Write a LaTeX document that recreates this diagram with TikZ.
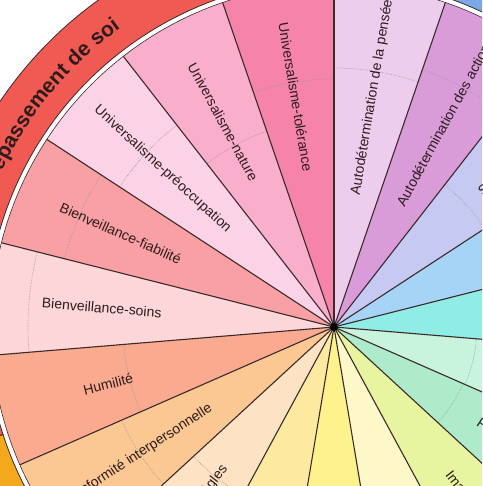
\documentclass[tikz,border=0pt]{standalone}
\usepackage{fontspec}
\setmainfont{Liberation Sans}
\usetikzlibrary{decorations.text}

\definecolor{ut}{HTML}{F583AA}
\definecolor{un}{HTML}{F9AECB}
\definecolor{up}{HTML}{FCD3E6}
\definecolor{bf}{HTML}{F9A0A4}
\definecolor{bs}{HTML}{FCD6D9}
\definecolor{hum}{HTML}{FAAA8E}
\definecolor{ci}{HTML}{FBC894}
\definecolor{cr}{HTML}{FDE2C4}
\definecolor{trad}{HTML}{FDEAA0}
\definecolor{ss}{HTML}{FDF28C}
\definecolor{sp}{HTML}{FEF8C8}
\definecolor{face}{HTML}{E8F5A0}
\definecolor{pr}{HTML}{AEEBCB}
\definecolor{pd}{HTML}{C8F3DC}
\definecolor{reus}{HTML}{8FEDE6}
\definecolor{hed}{HTML}{A6D4F7}
\definecolor{stim}{HTML}{C6CAF2}
\definecolor{ada}{HTML}{D99CD9}
\definecolor{adp}{HTML}{EDCDED}
\definecolor{traitfonce}{HTML}{3A2A2A}
\definecolor{textefonce}{HTML}{2E1C1C}
\definecolor{anneaurouge}{HTML}{F05A52}
\definecolor{anneauorange}{HTML}{F4A81C}
\definecolor{anneaubleu}{HTML}{7AA8E8}

\tikzset{
  valeur/.style={font=\fontsize{14}{16}\selectfont, text=textefonce, inner sep=0pt},
  rayon/.style={draw=traitfonce, line width=1.1pt},
  repere/.style={densely dotted, draw=black!40, line width=0.6pt},
  anneau/.style={draw=traitfonce, line width=0.8pt}
}

\begin{document}
\begin{tikzpicture}[x=1pt,y=1pt]
	\useasboundingbox (-334,-159) rectangle (148,327);
	\clip (-334,-159) rectangle (148,327);
	\coordinate (centre) at (0,0);

	% anneau exterieur
	\filldraw[anneau, fill=anneaurouge] (90:348pt) arc[start angle=90, end angle=198, radius=348pt] -- (198:403pt) arc[start angle=198, end angle=90, radius=403pt] -- cycle;
	\filldraw[anneau, fill=anneauorange] (198:348pt) arc[start angle=198, end angle=300, radius=348pt] -- (300:403pt) arc[start angle=300, end angle=198, radius=403pt] -- cycle;
	\filldraw[anneau, fill=anneaubleu] (0:348pt) arc[start angle=0, end angle=90, radius=348pt] -- (90:403pt) arc[start angle=90, end angle=0, radius=403pt] -- cycle;
	\path[decorate, decoration={text along path, text align=center, text color=textefonce,
		text={|\fontsize{21}{24}\bfseries|Dépassement de soi}}]
		(166.4:367pt) arc[start angle=166.4, end angle=116.4, radius=367pt];

	% secteurs
	\foreach \i/\col/\dr in {0/ut/248, 1/un/207, 2/up/256, 3/bf/278, 4/bs/306, 5/hum/211, 6/ci/232, 7/cr/191, 8/trad/220, 9/ss/220, 10/sp/220, 11/face/240, 12/pr/141, 13/pd/143, 14/reus/190, 15/hed/200, 16/stim/180, 17/ada/272, 18/adp/259}{
		\pgfmathsetmacro\a{90+\i*360/19}
		\pgfmathsetmacro\b{\a+360/19}
		\fill[\col] (centre) -- (\a:343pt) arc[start angle=\a, end angle=\b, radius=343pt] -- cycle;
		\draw[repere] (\a:\dr pt) arc[start angle=\a, end angle=\b, radius=\dr pt];
	}
	\foreach \i in {0,...,18}
		\draw[rayon] (centre) -- (90+\i*360/19:343pt);
	\draw[traitfonce, line width=0.6pt] (centre) circle[radius=343pt];
	\fill[black] (centre) circle[radius=4pt];

	% etiquettes
	\foreach \i/\lab in {0/Universalisme-tolérance, 1/Universalisme-nature, 2/Universalisme-préoccupation, 3/Bienveillance-fiabilité, 4/Bienveillance-soins, 5/Humilité, 6/Conformité interpersonnelle, 7/Conformité-règles, 11/Image publique, 12/Pouvoir-ressources, 16/Stimulation, 17/Autodétermination des actions, 18/Autodétermination de la pensée}{
		\pgfmathsetmacro\m{90+(\i+0.5)*360/19}
		\pgfmathsetmacro\r{(\m>90 && \m<270) ? \m-180 : \m}
		\node[valeur, rotate=\r] (lab\i) at (\m:233pt) {\lab};
	}
\end{tikzpicture}
\end{document}
